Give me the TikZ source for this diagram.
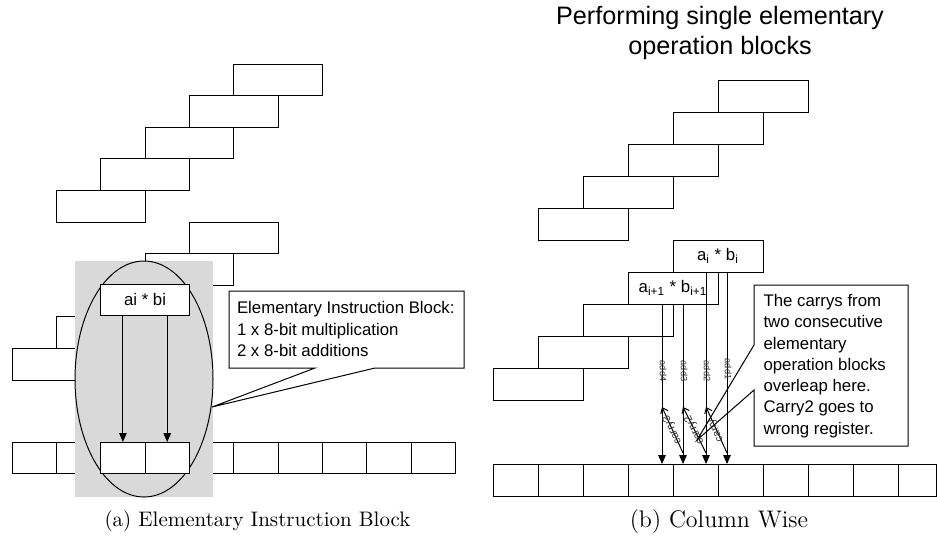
\documentclass[tikz,border=0pt]{standalone}
\usepackage{fontspec}
\newfontfamily\arial{Liberation Sans}
\usetikzlibrary{arrows.meta}
\begin{document}
\begin{tikzpicture}[x=0.5pt,y=-0.5pt,
  line width=0.5pt,
  lblk/.style={draw, inner sep=0pt, outer sep=0pt, anchor=north west, minimum width=44.35pt, minimum height=15.8pt},
  lcell/.style={draw, inner sep=0pt, outer sep=0pt, anchor=north west, minimum width=22.175pt, minimum height=15.8pt},
  rblk/.style={draw, inner sep=0pt, outer sep=0pt, anchor=north west, minimum width=45pt, minimum height=16pt},
  rcell/.style={draw, inner sep=0pt, outer sep=0pt, anchor=north west, minimum width=22.5pt, minimum height=16pt},
  lbl/.style={font=\arial\fontsize{8.4}{10.65}\selectfont},
  arr/.style={-{Triangle[length=4.5pt,width=3.8pt]}},
  carr/.style={-{Straight Barb[length=2.5pt,width=4pt]}},
  tinylbl/.style={font=\arial\fontsize{4.6}{5}\selectfont, text=black!80, inner sep=0.3pt},
  carrylbl/.style={font=\arial\fontsize{5.5}{6}\selectfont, text=black!80, inner sep=0.3pt},
]
\useasboundingbox (0,0) rectangle (937,538);
\clip (0,0) rectangle (937,538);
\fill[white] (0,0) rectangle (937,538);

% ---------------- (a) ----------------
\node[lblk] (a1) at (233.75,64) {};
\node[lblk] (a2) at (189.4,95.6) {};
\node[lblk] (a3) at (145.05,127.2) {};
\node[lblk] (a4) at (100.7,158.8) {};
\node[lblk] (a5) at (56.35,190.4) {};
\node[lblk] (b1) at (189.4,222) {};
\node[lblk] (b2) at (145.05,253.6) {};
\node[lblk] (b3) at (100.7,285.2) {};
\node[lblk] (b4) at (56.35,316.8) {};
\node[lblk] (b5) at (12,348.4) {};
\foreach \j in {0,...,9} \node[lcell] (la\j) at ({12+44.35*\j},442) {};

\node[fill=black!15, anchor=north west, inner sep=0pt, outer sep=0pt, minimum width=69pt, minimum height=118pt] (gray) at (75,261) {};
\draw (144,379) ellipse [x radius=34.5pt, y radius=59pt];
\node[lcell, fill=white] (w3) at (100.7,442) {};
\node[lcell, fill=white] (w4) at (145.05,442) {};
\node[lblk, fill=white, lbl] (ab) at (100.7,284) {ai * bi};
\draw[arr] (ab.south -| w3.north) -- (w3.north);
\draw[arr] (ab.south -| w4.north) -- (w4.north);

\node[anchor=north west, minimum width=117pt, minimum height=38pt, inner sep=0pt] (cL) at (229,291) {};
\coordinate (tipL) at (212,407);
\draw[fill=white] (cL.north west) -- (cL.north east) -- (cL.south east) -- ([xshift=73pt]cL.south west) -- (tipL) -- ([xshift=43pt]cL.south west) -- (cL.south west) -- cycle;
\node[lbl, align=left, anchor=west, inner sep=0pt] (tL) at (236.5,329) {Elementary Instruction Block:\\1 x 8-bit multiplication\\2 x 8-bit additions};

\node[font=\fontsize{10.5}{12}\selectfont] (capA) at (257.5,521) {(a) Elementary Instruction Block};

% ---------------- (b) ----------------
\node[font=\arial\fontsize{12.6}{15}\selectfont, align=center, inner sep=0pt] (title) at (720,33) {Performing single elementary\\operation blocks};

\node[rblk] (c1) at (718,80) {};
\node[rblk] (c2) at (673,112) {};
\node[rblk] (c3) at (628,144) {};
\node[rblk] (c4) at (583,176) {};
\node[rblk] (c5) at (538,208) {};
\node[rblk, lbl] (ai) at (673,240) {a\textsubscript{i} * b\textsubscript{i}};
\node[rblk, lbl] (ai1) at (628,272) {a\textsubscript{i+1} * b\textsubscript{i+1}};
\node[rblk] (d3) at (583,304) {};
\node[rblk] (d4) at (538,336) {};
\node[rblk] (d5) at (493,368) {};
\foreach \j in {0,...,8} \node[rcell] (rr\j) at ({493+45*\j},464) {};
\node[draw, inner sep=0pt, outer sep=0pt, anchor=north west, minimum width=19pt, minimum height=16pt] (rr9) at (898,464) {};

\coordinate (t4) at ([xshift=17pt]ai1.south west);
\coordinate (t3) at ([xshift=27.5pt]ai1.south west);
\coordinate (t2) at ([xshift=16.5pt]ai.south west);
\coordinate (t1) at ([xshift=27pt]ai.south west);
\coordinate (e4) at (t4 |- rr0.north);
\coordinate (e3) at (t3 |- rr0.north);
\coordinate (e2) at (t2 |- rr0.north);
\coordinate (e1) at (t1 |- rr0.north);
\draw[arr] (t4) -- (e4);
\draw[arr] (t3) -- (e3);
\draw[arr] (t2) -- (e2);
\draw[arr] (t1) -- (e1);
\node[tinylbl, rotate=-90] (l4) at ([xshift=0.6pt,yshift=-33.5pt]t4) {add4};
\node[tinylbl, rotate=-90] (l3) at ([xshift=0.6pt,yshift=-33.5pt]t3) {add3};
\node[tinylbl, rotate=-90] (l2) at ([xshift=0.6pt,yshift=-49.5pt]t2) {add2};
\node[tinylbl, rotate=-90] (l1) at ([xshift=0.6pt,yshift=-48.5pt]t1) {add1};

\draw[carr] ([yshift=5.5pt]e3) -- node[carrylbl, sloped, allow upside down] (k3) {carry3} ([yshift=28.5pt]e4);
\draw[carr] ([yshift=5.5pt]e2) -- node[carrylbl, sloped, allow upside down] (k2) {carry2} ([yshift=28.5pt]e3);
\draw[carr] ([yshift=5.5pt]e1) -- node[carrylbl, sloped, allow upside down] (k1) {carry} ([yshift=28.5pt]e2);

\node[anchor=north west, minimum width=76.5pt, minimum height=80pt, inner sep=0pt] (cR) at (754,285) {};
\coordinate (tipR) at (697,440);
\draw (cR.north west) -- (cR.north east) -- (cR.south east) -- (cR.south west) -- ([yshift=-52.5pt]cR.north west) -- (tipR) -- ([yshift=-30pt]cR.north west) -- cycle;
\node[lbl, align=left, anchor=west, inner sep=0pt] (tR) at (763,366) {The carrys from\\two consecutive\\elementary\\operation blocks\\overleap here.\\Carry2 goes to\\wrong register.};

\node[font=\fontsize{12}{14}\selectfont] (capB) at (719,521) {(b) Column Wise};
\end{tikzpicture}
\end{document}
